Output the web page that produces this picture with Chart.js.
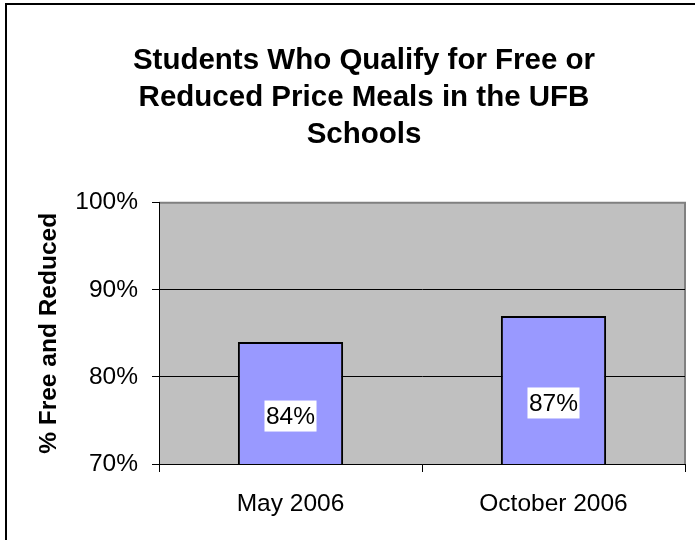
<!DOCTYPE html>
<html>
<head>
<meta charset="utf-8">
<script src="https://cdn.jsdelivr.net/npm/chart.js@4/dist/chart.umd.min.js"></script>
<style>
html,body{margin:0;padding:0;background:#fff;}
#wrap{width:695px;height:540px;position:relative;}
</style>
</head>
<body>
<div id="wrap"><canvas id="c" width="695" height="540"></canvas></div>
<script>
const categories = ["May 2006", "October 2006"];
const values = [84, 87];
const valueLabels = ["84%", "87%"];
const yTicks = [70, 80, 90, 100];
const titleLines = ["Students Who Qualify for Free or", "Reduced Price Meals in the UFB", "Schools"];
const yTitle = "% Free and Reduced";

const FONT = "'Liberation Sans', Arial, sans-serif";

const framePlugin = {
  id: 'frame',
  beforeDraw(chart) {
    const ctx = chart.ctx;
    const a = chart.chartArea;
    ctx.save();
    ctx.fillStyle = '#fff';
    ctx.fillRect(0, 0, chart.width, chart.height);
    ctx.strokeStyle = '#000';
    ctx.lineWidth = 2;
    ctx.beginPath();
    ctx.moveTo(6, 540);
    ctx.lineTo(6, 4);
    ctx.lineTo(695, 4);
    ctx.stroke();
    ctx.fillStyle = '#C0C0C0';
    ctx.fillRect(a.left, a.top, a.right - a.left, a.bottom - a.top);
    ctx.strokeStyle = '#808080';
    ctx.lineWidth = 2;
    ctx.beginPath();
    ctx.moveTo(a.left, a.top);
    ctx.lineTo(a.right, a.top);
    ctx.lineTo(a.right, a.bottom);
    ctx.stroke();
    ctx.restore();
  }
};

const labelPlugin = {
  id: 'barLabels',
  afterDraw(chart) {
    const ctx = chart.ctx;
    const xs = chart.scales.x;
    const ys = chart.scales.y;
    ctx.save();
    ctx.font = "24.5px " + FONT;
    ctx.textAlign = 'center';
    ctx.textBaseline = 'middle';
    values.forEach((v, i) => {
      const txt = valueLabels[i];
      const x = xs.getPixelForValue(i);
      const top = ys.getPixelForValue(v);
      const base = ys.getPixelForValue(ys.min);
      const cy = (top + base) / 2 + 13;
      const w = ctx.measureText(txt).width + 3;
      const h = 31;
      ctx.fillStyle = '#fff';
      ctx.fillRect(x - w / 2, cy - h / 2, w, h);
      ctx.fillStyle = '#000';
      ctx.fillText(txt, x, cy + 1);
    });
    ctx.restore();
  }
};

new Chart(document.getElementById('c'), {
  type: 'bar',
  data: {
    labels: categories,
    datasets: [{
      data: values,
      backgroundColor: '#9999FF',
      borderColor: '#000',
      borderWidth: 2,
      borderSkipped: false,
      barPercentage: 0.4,
      categoryPercentage: 1.0
    }]
  },
  options: {
    responsive: false,
    animation: false,
    devicePixelRatio: 1,
    layout: { padding: { left: 43, right: 10, top: 30, bottom: 0 } },
    plugins: {
      legend: { display: false },
      tooltip: { enabled: false },
      title: {
        display: true,
        text: titleLines,
        color: '#000',
        font: { family: FONT, size: 29.5, weight: 'bold', lineHeight: 1.24 },
        padding: { top: 13, bottom: 50 }
      }
    },
    scales: {
      x: {
        offset: true,
        grid: { display: true, offset: true, drawOnChartArea: false, color: '#000', tickLength: 8, lineWidth: 1 },
        border: { display: true, color: '#000', width: 1 },
        ticks: { color: '#000', font: { family: FONT, size: 24.5 }, padding: 18 },
        afterFit(s) { s.height = 76; }
      },
      y: {
        min: 70, max: 100,
        afterBuildTicks(s) { s.ticks = yTicks.map(v => ({ value: v })); },
        grid: {
          color: (c) => (c.tick && c.tick.value === 100 ? '#808080' : '#000'),
          lineWidth: 1,
          tickLength: 7,
          tickColor: '#000'
        },
        border: { display: true, color: '#000', width: 1 },
        ticks: { color: '#000', font: { family: FONT, size: 24.5 }, padding: 14, callback: (v) => v + '%' },
        title: {
          display: true,
          text: yTitle,
          color: '#000',
          font: { family: FONT, size: 24.5, weight: 'bold', lineHeight: 0.5 },
          padding: { top: 0, bottom: 0 }
        },
        afterFit(s) { s.width = 116; }
      }
    }
  },
  plugins: [framePlugin, labelPlugin]
});
</script>
</body>
</html>
